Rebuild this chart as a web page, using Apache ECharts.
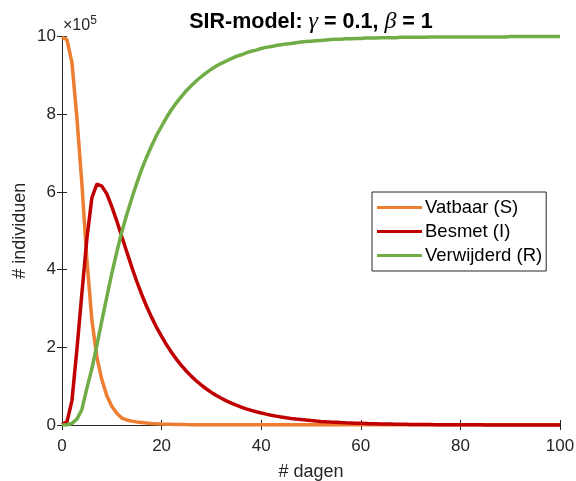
<!DOCTYPE html>
<html>
<head>
<meta charset="utf-8">
<script src="https://cdn.jsdelivr.net/npm/echarts@6/dist/echarts.min.js"></script>
<style>
  html, body { margin: 0; padding: 0; background: #ffffff; }
  #chart { width: 576px; height: 481px; }
</style>
</head>
<body>
<div id="chart"></div>
<script>
// SIR model, values in units of 10^5 individuals, one sample per day (0..100)
const days = Array.from({ length: 101 }, (_, i) => i)

const susceptible = [
  9.99, 9.915, 9.33, 7.9, 6.2, 4.25, 2.7, 1.75, 1.17, 0.75,
  0.48, 0.30, 0.18, 0.13, 0.10, 0.08, 0.065, 0.05, 0.04, 0.033,
  0.027, 0.022, 0.018, 0.015, 0.012, 0.01, 0.009, 0.008, 0.007, 0.006,
  0.005, 0.005, 0.005, 0.005, 0.005, 0.005, 0.005, 0.005, 0.005, 0.005,
  0.005, 0.005, 0.005, 0.005, 0.005, 0.005, 0.005, 0.005, 0.005, 0.005,
  0.005, 0.005, 0.005, 0.005, 0.005, 0.005, 0.005, 0.005, 0.005, 0.005,
  0.005, 0.005, 0.005, 0.005, 0.005, 0.005, 0.005, 0.005, 0.005, 0.005,
  0.005, 0.005, 0.005, 0.005, 0.005, 0.005, 0.005, 0.005, 0.005, 0.005,
  0.005, 0.005, 0.005, 0.005, 0.005, 0.005, 0.005, 0.005, 0.005, 0.005,
  0.005, 0.005, 0.005, 0.005, 0.005, 0.005, 0.005, 0.005, 0.005, 0.005,
  0.005
]

const infected = [
  0.01, 0.08, 0.63, 1.95, 3.4, 4.8, 5.85, 6.2, 6.15, 5.95,
  5.62, 5.25, 4.85, 4.46, 4.07, 3.70, 3.36, 3.05, 2.77, 2.51,
  2.28, 2.063, 1.867, 1.689, 1.529, 1.383, 1.252, 1.133, 1.025, 0.927,
  0.839, 0.759, 0.687, 0.622, 0.563, 0.509, 0.461, 0.417, 0.377, 0.341,
  0.309, 0.280, 0.253, 0.229, 0.207, 0.188, 0.170, 0.154, 0.139, 0.126,
  0.114, 0.103, 0.093, 0.084, 0.076, 0.069, 0.062, 0.056, 0.051, 0.046,
  0.042, 0.038, 0.034, 0.031, 0.028, 0.025, 0.023, 0.021, 0.019, 0.017,
  0.015, 0.014, 0.013, 0.011, 0.010, 0.009, 0.008, 0.008, 0.007, 0.006,
  0.006, 0.005, 0.005, 0.004, 0.004, 0.003, 0.003, 0.003, 0.003, 0.002,
  0.002, 0.002, 0.002, 0.002, 0.001, 0.001, 0.001, 0.001, 0.001, 0.001,
  0.001
]

const removed = [
  0, 0.005, 0.04, 0.15, 0.4, 0.95, 1.45, 2.05, 2.68, 3.30,
  3.90, 4.45, 4.97, 5.41, 5.83, 6.22, 6.58, 6.90, 7.19, 7.46,
  7.69, 7.92, 8.12, 8.30, 8.46, 8.61, 8.74, 8.86, 8.97, 9.07,
  9.16, 9.24, 9.31, 9.37, 9.43, 9.49, 9.53, 9.58, 9.62, 9.65,
  9.69, 9.72, 9.74, 9.77, 9.79, 9.81, 9.82, 9.84, 9.86, 9.87,
  9.88, 9.89, 9.90, 9.91, 9.92, 9.93, 9.93, 9.94, 9.94, 9.95,
  9.95, 9.96, 9.96, 9.96, 9.97, 9.97, 9.97, 9.97, 9.98, 9.98,
  9.98, 9.98, 9.98, 9.98, 9.99, 9.99, 9.99, 9.99, 9.99, 9.99,
  9.99, 9.99, 9.99, 9.99, 9.99, 9.99, 9.99, 9.99, 9.99, 9.99,
  10, 10, 10, 10, 10, 10, 10, 10, 10, 10,
  10
]

const seriesNames = ['Vatbaar (S)', 'Besmet (I)', 'Verwijderd (R)']
const colorList = ['#ED7D31', '#C00000', '#70AD47']
const font = "'Liberation Sans', Arial, sans-serif"
const axisColor = '#262626'

const chart = echarts.init(document.getElementById('chart'))

function axisBase(extra) {
  return Object.assign({
    type: 'value',
    axisLine: { show: true, lineStyle: { color: axisColor, width: 1 } },
    axisTick: { show: true, inside: true, length: 5, lineStyle: { color: axisColor } },
    splitLine: { show: false }
  }, extra)
}

const series = [susceptible, infected, removed].map((values, index) => {
  return {
    name: seriesNames[index],
    type: 'line',
    showSymbol: false,
    clip: false,
    color: colorList[index],
    lineStyle: { width: 3.5, color: colorList[index] },
    data: days.map((d, i) => [d, values[i]])
  }
})

chart.setOption({
  backgroundColor: '#ffffff',
  animation: false,
  grid: { left: 62, right: 16, top: 36.5, bottom: 56, outerBoundsMode: 'none', containLabel: false },
  graphic: [
    {
      type: 'text',
      x: 311,
      y: 22,
      style: {
        text: '{b|SIR-model: }{g|γ}{b| = 0.1, }{g|β}{b| = 1}',
        align: 'center',
        verticalAlign: 'middle',
        rich: {
          b: { fontFamily: font, fontWeight: 'bold', fontSize: 21.5, fill: '#000000' },
          g: { fontFamily: "'Liberation Serif', serif", fontStyle: 'italic', fontSize: 24, fill: '#000000' }
        }
      }
    },
    {
      type: 'text',
      x: 63,
      y: 26,
      style: {
        text: '{a|×10}{s|5}',
        align: 'left',
        verticalAlign: 'middle',
        rich: {
          a: { fontFamily: font, fontSize: 16, fill: axisColor },
          s: { fontFamily: font, fontSize: 12, fill: axisColor, verticalAlign: 'top', padding: [0, 0, 10, 0] }
        }
      }
    }
  ],
  legend: {
    orient: 'vertical',
    left: 372,
    top: 192,
    icon: 'rect',
    itemWidth: 45,
    itemHeight: 3,
    itemGap: 5,
    padding: [6, 4, 6, 5],
    borderColor: axisColor,
    borderWidth: 1,
    backgroundColor: '#ffffff',
    textStyle: { fontFamily: font, fontSize: 18.5, color: '#000000', lineHeight: 18, padding: [0, 0, 0, -2] },
    data: seriesNames
  },
  xAxis: [
    axisBase({
      position: 'bottom',
      min: 0,
      max: 100,
      interval: 20,
      name: '# dagen',
      nameLocation: 'middle',
      nameGap: 38,
      nameMoveOverlap: false,
      nameTextStyle: { fontFamily: font, fontSize: 18, color: axisColor },
      axisLabel: { fontFamily: font, fontSize: 17, color: axisColor, margin: 13 }
    }),
    axisBase({
      position: 'top',
      min: 0,
      max: 100,
      interval: 20,
      axisLabel: { show: false }
    })
  ],
  yAxis: [
    axisBase({
      position: 'left',
      min: 0,
      max: 10,
      interval: 2,
      name: '# individuen',
      nameLocation: 'middle',
      nameGap: 33,
      nameMoveOverlap: false,
      nameTextStyle: { fontFamily: font, fontSize: 18, color: axisColor },
      axisLabel: { fontFamily: font, fontSize: 17, color: axisColor, margin: 6 }
    }),
    axisBase({
      position: 'right',
      min: 0,
      max: 10,
      interval: 2,
      axisLabel: { show: false }
    })
  ],
  series
})
</script>
</body>
</html>
